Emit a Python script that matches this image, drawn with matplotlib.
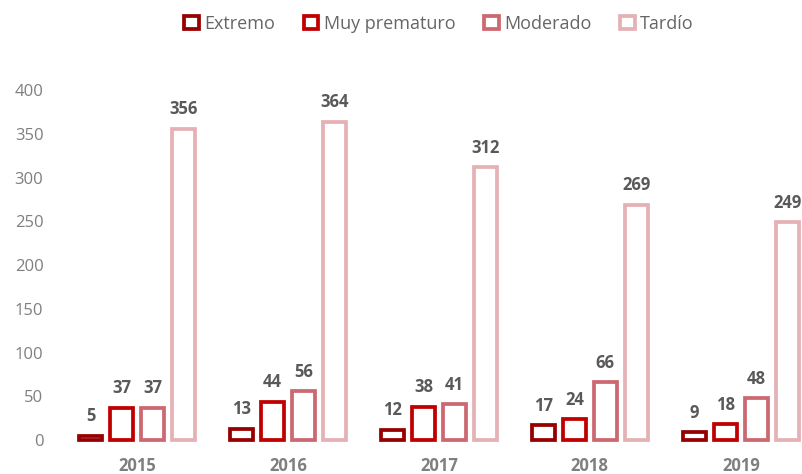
import numpy as np
import matplotlib.pyplot as plt

years = ['2015', '2016', '2017', '2018', '2019']
series = ['Extremo', 'Muy prematuro', 'Moderado', 'Tardío']
extremo = [5, 13, 12, 17, 9]
muy_prematuro = [37, 44, 38, 24, 18]
moderado = [37, 56, 41, 66, 48]
tardio = [356, 364, 312, 269, 249]
colors = ['#960000', '#C00000', '#CB6870', '#E4B1B5']

plt.rcParams['font.family'] = ['Open Sans', 'DejaVu Sans']

fig = plt.figure(figsize=(8.03, 4.74), dpi=100)
# the plot area runs past the right edge, like the cropped original
ax = fig.add_axes([0.0766, 0.0717, 0.940, 0.738])

x = np.arange(len(years))
step = 0.205
width = 0.155
for i, (name, vals, c) in enumerate(zip(series, [extremo, muy_prematuro, moderado, tardio], colors)):
    pos = x + (i - 1.5) * step
    ax.bar(pos, vals, width=width, facecolor='white', edgecolor=c,
           linewidth=2.7, label=name, clip_on=False)
    for p, v in zip(pos, vals):
        ax.text(p, v + 12, str(v), ha='center', va='bottom', fontsize=12,
                fontweight='bold', color='#595959', clip_on=False)

ax.set_xlim(-0.5, 4.5)
ax.set_ylim(0, 400)
ax.set_yticks(range(0, 401, 50))
ax.set_xticks(x)
ax.set_xticklabels(years, fontsize=12, fontweight='bold', color='#7F7F7F')
ax.tick_params(axis='y', labelsize=12, labelcolor='#7F7F7F', length=0, pad=13)
ax.tick_params(axis='x', length=0, pad=12)
for s in ax.spines.values():
    s.set_visible(False)

ax.legend(loc='center', bbox_to_anchor=(0.5, 1.19), ncol=4, frameon=False,
          fontsize=13, labelcolor='#666666', handlelength=0.8, handleheight=0.8,
          handletextpad=0.3, columnspacing=1.6)

plt.savefig('out.png', dpi=100)
